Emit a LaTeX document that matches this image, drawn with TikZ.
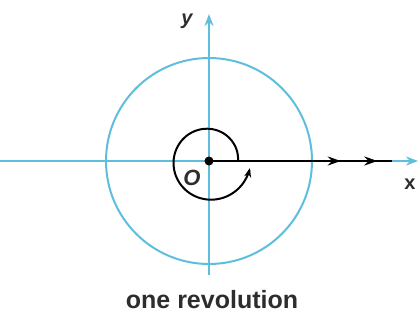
\documentclass[tikz,border=0pt]{standalone}
\usepackage{fontspec}
\setmainfont{Liberation Sans}
\setsansfont{Liberation Sans}
\usetikzlibrary{arrows.meta,decorations.markings}
\definecolor{axcyan}{RGB}{95,190,222}
\definecolor{inkgray}{RGB}{45,45,45}
\tikzset{
  axis/.style={draw=axcyan,line width=2pt,-{Stealth[length=12pt,width=9pt]}},
  bigcirc/.style={draw=axcyan,line width=2pt},
  ray/.style={draw=black,line width=2.2pt,
    postaction={decorate},
    decoration={markings,
      mark=at position 0.72 with {\arrow{Stealth[length=13pt,width=9pt]}},
      mark=at position 0.92 with {\arrow{Stealth[length=13pt,width=9pt]}}}},
  spiral/.style={draw=black,line width=2pt,-{Stealth[length=9pt,width=7pt]}},
  lbl/.style={text=inkgray,font=\bfseries\itshape\fontsize{20}{24}\selectfont,inner sep=0pt},
  caption/.style={text=inkgray,font=\bfseries\fontsize{25}{30}\selectfont,inner sep=0pt}
}
\begin{document}
\begin{tikzpicture}[x=1pt,y=1pt]
\useasboundingbox (0,0) rectangle (419,324);
\coordinate (O) at (209,163);
\coordinate (xl) at (0,163);
\coordinate (xr) at (418,163);
\coordinate (yb) at (209,49);
\coordinate (yt) at (209,310);
\coordinate (rayend) at (392,163);
\draw[bigcirc] (O) circle[radius=103];
\draw[axis] (xl) -- (xr);
\draw[axis] (yb) -- (yt);
\draw[ray] (O) -- (rayend);
\draw[spiral,shift={(O)}] plot[domain=0:350,smooth,samples=80]
  ({(29+\x/28)*cos(\x)},{(29+\x/28)*sin(\x)});
\fill (O) circle[radius=4.5];
\node[lbl] (ylab) at (187,303) {y};
\node[lbl,font=\bfseries\fontsize{20}{24}\selectfont] (xlab) at (410,140) {x};
\node[lbl,font=\bfseries\itshape\fontsize{22}{26}\selectfont] (olab) at (192,146) {O};
\node[caption] (cap) at (212,24) {one revolution};
\end{tikzpicture}
\end{document}
